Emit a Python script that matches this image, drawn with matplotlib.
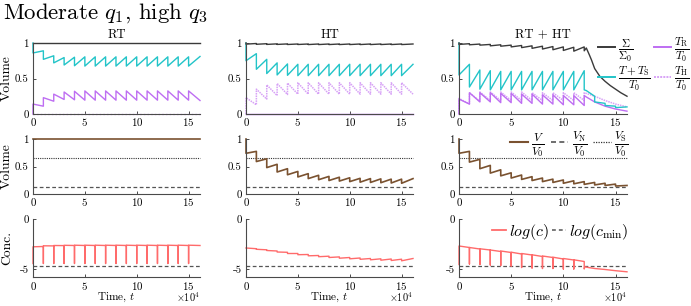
import matplotlib
matplotlib.use("Agg")
import matplotlib.pyplot as plt
from matplotlib.lines import Line2D

plt.rcParams['font.family'] = 'serif'
plt.rcParams['font.serif'] = ['cmr10']
plt.rcParams['mathtext.fontset'] = 'cm'
plt.rcParams['axes.formatter.use_mathtext'] = True

# ---------------- data (time in units of 1e4) ----------------
events = [0, 1, 2, 3, 4, 5, 6, 7, 8, 9, 10, 11, 12, 13, 14, 15]
t_end = 16.1
events_rh = [0, 1, 2, 3, 4, 5, 6, 7, 8, 9, 10, 11, 12]
t_tail0 = 12.2

# Row 1 : RT
rt_sigma = [1.0, 1.0]
rt_cyan_start = 1.0
rt_cyan_post = [0.86, 0.77, 0.72, 0.69, 0.68, 0.675, 0.675, 0.675, 0.675, 0.675, 0.675, 0.675, 0.675, 0.675, 0.675, 0.675]
rt_cyan_pre = [0.89, 0.82, 0.795, 0.80, 0.805, 0.805, 0.805, 0.805, 0.805, 0.805, 0.805, 0.805, 0.805, 0.805, 0.805, 0.81]
rt_tr_start = 0.0
rt_tr_post = [0.14, 0.23, 0.28, 0.31, 0.32, 0.325, 0.325, 0.325, 0.325, 0.325, 0.325, 0.325, 0.325, 0.325, 0.325, 0.325]
rt_tr_pre = [0.11, 0.18, 0.205, 0.20, 0.195, 0.195, 0.195, 0.195, 0.195, 0.195, 0.195, 0.195, 0.195, 0.195, 0.195, 0.19]
rt_th = [0.0, 0.0]

# Row 1 : HT
ht_sigma_start = 1.0
ht_sigma_post = [0.984, 0.982, 0.98, 0.98, 0.979, 0.979, 0.978, 0.978, 0.978, 0.978, 0.978, 0.978, 0.978, 0.978, 0.978, 0.978]
ht_sigma_pre = [0.993, 0.99, 0.988, 0.987, 0.986, 0.986, 0.986, 0.986, 0.986, 0.986, 0.986, 0.986, 0.986, 0.986, 0.986, 0.986]
ht_cyan_start = 1.0
ht_cyan_post = [0.75, 0.63, 0.57, 0.55, 0.545, 0.54, 0.54, 0.54, 0.54, 0.54, 0.54, 0.54, 0.54, 0.54, 0.54, 0.54]
ht_cyan_pre = [0.85, 0.77, 0.72, 0.705, 0.70, 0.70, 0.70, 0.70, 0.70, 0.70, 0.70, 0.70, 0.70, 0.70, 0.70, 0.70]
ht_tr = [0.0, 0.0]
ht_th_start = 0.0
ht_th_post = [0.23, 0.35, 0.41, 0.43, 0.435, 0.44, 0.44, 0.44, 0.44, 0.44, 0.44, 0.44, 0.44, 0.44, 0.44, 0.44]
ht_th_pre = [0.13, 0.21, 0.26, 0.275, 0.28, 0.28, 0.28, 0.28, 0.28, 0.28, 0.28, 0.28, 0.28, 0.28, 0.28, 0.28]

# Row 1 : RT + HT (periodic part, then tail)
rh_sigma_start = 1.0
rh_sigma_post = [0.98, 0.975, 0.97, 0.96, 0.955, 0.945, 0.935, 0.925, 0.915, 0.905, 0.895, 0.885, 0.89]
rh_sigma_pre = [0.99, 0.985, 0.98, 0.975, 0.97, 0.965, 0.96, 0.955, 0.95, 0.945, 0.94, 0.945, 0.93]
rh_sigma_tail_t = [12.5, 12.7, 13.0, 13.5, 14.0, 14.5, 15.0, 15.5, 16.1]
rh_sigma_tail = [0.83, 0.76, 0.64, 0.53, 0.46, 0.40, 0.35, 0.30, 0.25]
rh_cyan_start = 1.0
rh_cyan_post = [0.55, 0.38, 0.35, 0.34, 0.34, 0.34, 0.34, 0.34, 0.34, 0.34, 0.34, 0.34, 0.34]
rh_cyan_pre = [0.70, 0.62, 0.61, 0.60, 0.60, 0.60, 0.60, 0.60, 0.60, 0.60, 0.60, 0.61, 0.33]
rh_cyan_tail_t = [13.0, 13.0, 14.0, 14.0, 15.0, 15.0, 16.1]
rh_cyan_tail = [0.25, 0.17, 0.15, 0.12, 0.11, 0.09, 0.10]
rh_tr_start = 0.0
rh_tr_post = [0.21, 0.30, 0.30, 0.30, 0.29, 0.29, 0.28, 0.28, 0.27, 0.27, 0.26, 0.26, 0.26]
rh_tr_pre = [0.14, 0.17, 0.17, 0.16, 0.16, 0.15, 0.15, 0.14, 0.14, 0.13, 0.13, 0.12, 0.24]
rh_tr_tail_t = [13.0, 14.0, 15.0, 16.1]
rh_tr_tail = [0.17, 0.11, 0.07, 0.04]
rh_th_start = 0.0
rh_th_post = [0.22, 0.30, 0.31, 0.31, 0.31, 0.31, 0.31, 0.30, 0.30, 0.30, 0.30, 0.30, 0.30]
rh_th_pre = [0.14, 0.18, 0.19, 0.19, 0.19, 0.19, 0.19, 0.19, 0.19, 0.19, 0.19, 0.19, 0.29]
rh_th_tail_t = [13.0, 14.0, 15.0, 16.1]
rh_th_tail = [0.25, 0.19, 0.14, 0.10]

# Row 2 : volumes
vn_level = 0.135
vs_level = 0.655
rt_v = [1.0, 1.0]
ht_v_start = 1.0
ht_v_post = [0.74, 0.59, 0.48, 0.40, 0.35, 0.31, 0.28, 0.26, 0.245, 0.235, 0.225, 0.215, 0.21, 0.205, 0.20, 0.195]
ht_v_pre = [0.775, 0.64, 0.54, 0.46, 0.41, 0.37, 0.34, 0.32, 0.305, 0.295, 0.285, 0.28, 0.275, 0.27, 0.27, 0.28]
rh_v_start = 1.0
rh_v_post = [0.74, 0.58, 0.46, 0.38, 0.33, 0.29, 0.265, 0.245, 0.225, 0.21, 0.195, 0.185, 0.175, 0.165, 0.155, 0.145]
rh_v_pre = [0.775, 0.63, 0.52, 0.44, 0.385, 0.345, 0.315, 0.29, 0.27, 0.255, 0.24, 0.225, 0.21, 0.195, 0.18, 0.155]

# Row 3 : log concentration
log_cmin = -4.65
rt_c_low = [-4.45] * 16
rt_c_post = [-2.78, -2.68, -2.65, -2.63, -2.62, -2.62, -2.62, -2.62, -2.62, -2.62, -2.62, -2.62, -2.62, -2.62, -2.62, -2.62]
rt_c_pre = [-2.75, -2.69, -2.66, -2.65, -2.65, -2.65, -2.65, -2.65, -2.65, -2.65, -2.65, -2.65, -2.65, -2.65, -2.65, -2.65]
ht_c_start = -2.9
ht_c_post = [-2.9, -3.03, -3.15, -3.3, -3.45, -3.57, -3.68, -3.77, -3.85, -3.92, -3.98, -4.03, -4.08, -4.12, -4.15, -4.18]
ht_c_pre = [-2.97, -3.08, -3.2, -3.33, -3.45, -3.55, -3.65, -3.72, -3.79, -3.85, -3.9, -3.95, -3.98, -4.0, -4.02, -3.95]
rh_c_low = [-4.55, -4.5, -4.55, -4.6, -4.65, -4.7, -4.85, -4.9, -4.95, -4.95, -5.0, -5.0]
rh_c_post = [-2.7, -2.85, -2.98, -3.1, -3.2, -3.32, -3.45, -3.58, -3.7, -3.82, -3.95, -4.08]
rh_c_pre = [-2.85, -3.0, -3.1, -3.25, -3.35, -3.5, -3.6, -3.75, -3.85, -4.0, -4.1, -4.25]
rh_c_tail_t = [12.0, 12.05, 12.4, 13.0, 14.0, 15.0, 16.1]
rh_c_tail = [-5.0, -4.78, -4.85, -4.95, -5.05, -5.17, -5.28]

col_titles = ['RT', 'HT', 'RT + HT']

# ---------------- helpers ----------------
def saw(start, post, pre, ev, tend):
    xs, ys = [ev[0]], [start]
    for k in range(len(post)):
        t1 = ev[k + 1] if k + 1 < len(ev) else tend
        xs += [ev[k], t1]
        ys += [post[k], pre[k]]
    return xs, ys

def spikes(low, post, pre, ev, tend):
    xs, ys = [], []
    for k in range(len(post)):
        t1 = ev[k + 1] if k + 1 < len(ev) else tend
        xs += [ev[k], ev[k], t1]
        ys += [low[k], post[k], pre[k]]
    return xs, ys

C_SIG = '#3a3a3a'
C_CY = '#22C4C8'
C_PU = '#BE6EF2'
C_PL = '#D7A2F6'
C_BR = '#7A5230'
C_RED = '#FF6B6B'
C_GR = '#555555'
LW = 1.0

W, H = 691, 306
fig = plt.figure(figsize=(W / 100, H / 100), dpi=100)

col_x = [33, 246, 459]
col_w = [167, 167, 168]
rows = [(43, 114), (139, 194), (219, 277)]

def make_ax(r, c):
    top, bot = rows[r]
    ax = fig.add_axes([col_x[c] / W, 1 - bot / H, col_w[c] / W, (bot - top) / H])
    for s in ['top', 'right']:
        ax.spines[s].set_visible(False)
    for s in ['left', 'bottom']:
        ax.spines[s].set_color('#4a4a4a')
        ax.spines[s].set_linewidth(0.8)
    ax.tick_params(direction='in', length=2.5, width=0.7, colors='#4a4a4a',
                   labelcolor='black', labelsize=7.8, pad=3)
    ax.tick_params(axis='x', pad=1.8)
    ax.set_xlim(0, t_end)
    ax.set_xticks([0, 5, 10, 15])
    ax.patch.set_alpha(0)
    return ax

axes = [[make_ax(r, c) for c in range(3)] for r in range(3)]

def plot(ax, x, y, **kw):
    return ax.plot(x, y, lw=kw.pop('lw', LW), clip_on=False, **kw)[0]

full_t = [0, t_end]

# Row 1
a = axes[0][0]
plot(a, full_t, rt_th, color=C_PL, ls=':')
plot(a, *saw(rt_tr_start, rt_tr_post, rt_tr_pre, events, t_end), color=C_PU)
plot(a, *saw(rt_cyan_start, rt_cyan_post, rt_cyan_pre, events, t_end), color=C_CY)
plot(a, full_t, rt_sigma, color=C_SIG)

a = axes[0][1]
plot(a, full_t, ht_tr, color=C_PU)
plot(a, *saw(ht_th_start, ht_th_post, ht_th_pre, events, t_end), color=C_PL, ls=(0, (1, 0.6)), lw=1.1)
plot(a, *saw(ht_cyan_start, ht_cyan_post, ht_cyan_pre, events, t_end), color=C_CY)
plot(a, *saw(ht_sigma_start, ht_sigma_post, ht_sigma_pre, events, t_end), color=C_SIG)

a = axes[0][2]
x, y = saw(rh_th_start, rh_th_post, rh_th_pre, events_rh, t_tail0)
plot(a, x + rh_th_tail_t, y + rh_th_tail, color=C_PL, ls=(0, (1, 0.6)), lw=1.1)
x, y = saw(rh_tr_start, rh_tr_post, rh_tr_pre, events_rh, t_tail0)
plot(a, x + rh_tr_tail_t, y + rh_tr_tail, color=C_PU)
x, y = saw(rh_cyan_start, rh_cyan_post, rh_cyan_pre, events_rh, t_tail0)
plot(a, x + rh_cyan_tail_t, y + rh_cyan_tail, color=C_CY)
x, y = saw(rh_sigma_start, rh_sigma_post, rh_sigma_pre, events_rh, t_tail0)
plot(a, x + rh_sigma_tail_t, y + rh_sigma_tail, color=C_SIG)

for a in axes[0]:
    a.set_ylim(0, 1)
    a.set_yticks([0, 0.5, 1])
    a.set_yticklabels(['0', '0.5', '1'])

leg1_handles = [Line2D([], [], color=C_SIG, lw=1.4), Line2D([], [], color=C_CY, lw=1.4),
                Line2D([], [], color=C_PU, lw=1.4), Line2D([], [], color=C_PL, lw=1.4, ls=(0, (1, 0.6)))]
leg1_labels = [r'$\frac{\Sigma}{\Sigma_0}$', r'$\frac{T+T_{\rm S}}{T_0}$',
               r'$\frac{T_{\rm R}}{T_0}$', r'$\frac{T_{\rm H}}{T_0}$']
fig.legend(leg1_handles, leg1_labels, ncol=2, frameon=False, fontsize=11.5,
           loc='center left', bbox_to_anchor=(598 / W, 1 - 64 / H),
           handlelength=1.05, handletextpad=0.2, columnspacing=0.2,
           labelspacing=0.05, borderpad=0, borderaxespad=0)

# Row 2
vn_t = [0, t_end]
for c, a in enumerate(axes[1]):
    plot(a, vn_t, [vs_level, vs_level], color='#333333', ls=(0, (1, 1)), lw=0.8)
    plot(a, vn_t, [vn_level, vn_level], color=C_GR, ls=(0, (3, 2)), lw=0.9)
    a.set_ylim(0, 1)
    a.set_yticks([0, 0.5, 1])
    a.set_yticklabels(['0', '0.5', '1'])
plot(axes[1][0], full_t, rt_v, color=C_BR, lw=1.2)
plot(axes[1][1], *saw(ht_v_start, ht_v_post, ht_v_pre, events, t_end), color=C_BR, lw=1.2)
plot(axes[1][2], *saw(rh_v_start, rh_v_post, rh_v_pre, events, t_end), color=C_BR, lw=1.2)

leg2_handles = [Line2D([], [], color=C_BR, lw=1.5), Line2D([], [], color=C_GR, lw=1.2, ls=(0, (3, 2))),
                Line2D([], [], color='#333333', lw=0.9, ls=(0, (1, 1)))]
leg2_labels = [r'$\frac{V}{V_0}$', r'$\frac{V_{\rm N}}{V_0}$', r'$\frac{V_{\rm S}}{V_0}$']
fig.legend(leg2_handles, leg2_labels, ncol=3, frameon=False, fontsize=12,
           loc='center right', bbox_to_anchor=(628 / W, 1 - 144 / H),
           handlelength=1.05, handletextpad=0.2, columnspacing=0.35,
           borderpad=0, borderaxespad=0)

# Row 3
for a in axes[2]:
    plot(a, [0, t_end], [log_cmin, log_cmin], color=C_GR, ls=(0, (3, 2)), lw=0.9)
    a.set_ylim(-5.8, 0)
    a.set_yticks([-5, 0])
    a.set_yticklabels(['-5', '0'])
plot(axes[2][0], *spikes(rt_c_low, rt_c_post, rt_c_pre, events, t_end), color=C_RED)
plot(axes[2][1], *saw(ht_c_start, ht_c_post, ht_c_pre, events, t_end), color=C_RED)
x, y = spikes(rh_c_low, rh_c_post, rh_c_pre, events_rh[:12], 12.0)
plot(axes[2][2], x + rh_c_tail_t, y + rh_c_tail, color=C_RED)

leg3_handles = [Line2D([], [], color=C_RED, lw=1.3), Line2D([], [], color=C_GR, lw=1.1, ls=(0, (2.5, 2)))]
leg3_labels = [r'$log(c)$', r'$log(c_{\rm min})$']
fig.legend(leg3_handles, leg3_labels, ncol=2, frameon=False, fontsize=11.5,
           loc='center right', bbox_to_anchor=(628 / W, 1 - 232 / H),
           handlelength=0.9, handletextpad=0.15, columnspacing=0.2,
           borderpad=0, borderaxespad=0)

# Texts
fig.text(3 / W, 1 - 18.5 / H, r'Moderate $q_1$, high $q_3$', fontsize=16.4, va='baseline', ha='left')
for c in range(3):
    cx = (col_x[c] + col_w[c] / 2) / W
    fig.text(cx, 1 - 299.5 / H, r'Time, $t$', fontsize=8.1, ha='center', va='baseline')
    fig.text(cx, 1 - 37.5 / H, col_titles[c], fontsize=9.2, ha='center', va='baseline')
    fig.text((col_x[c] + col_w[c]) / W, 1 - 302 / H, r'$\times10^4$', fontsize=7.4, ha='right', va='baseline')

fig.text(7 / W, 1 - 78.5 / H, 'Volume', rotation=90, fontsize=9.8, ha='center', va='center')
fig.text(7 / W, 1 - 166.5 / H, 'Volume', rotation=90, fontsize=9.8, ha='center', va='center')
fig.text(7 / W, 1 - 248 / H, 'Conc.', rotation=90, fontsize=9.8, ha='center', va='center')

fig.savefig('out.png', dpi=100)
